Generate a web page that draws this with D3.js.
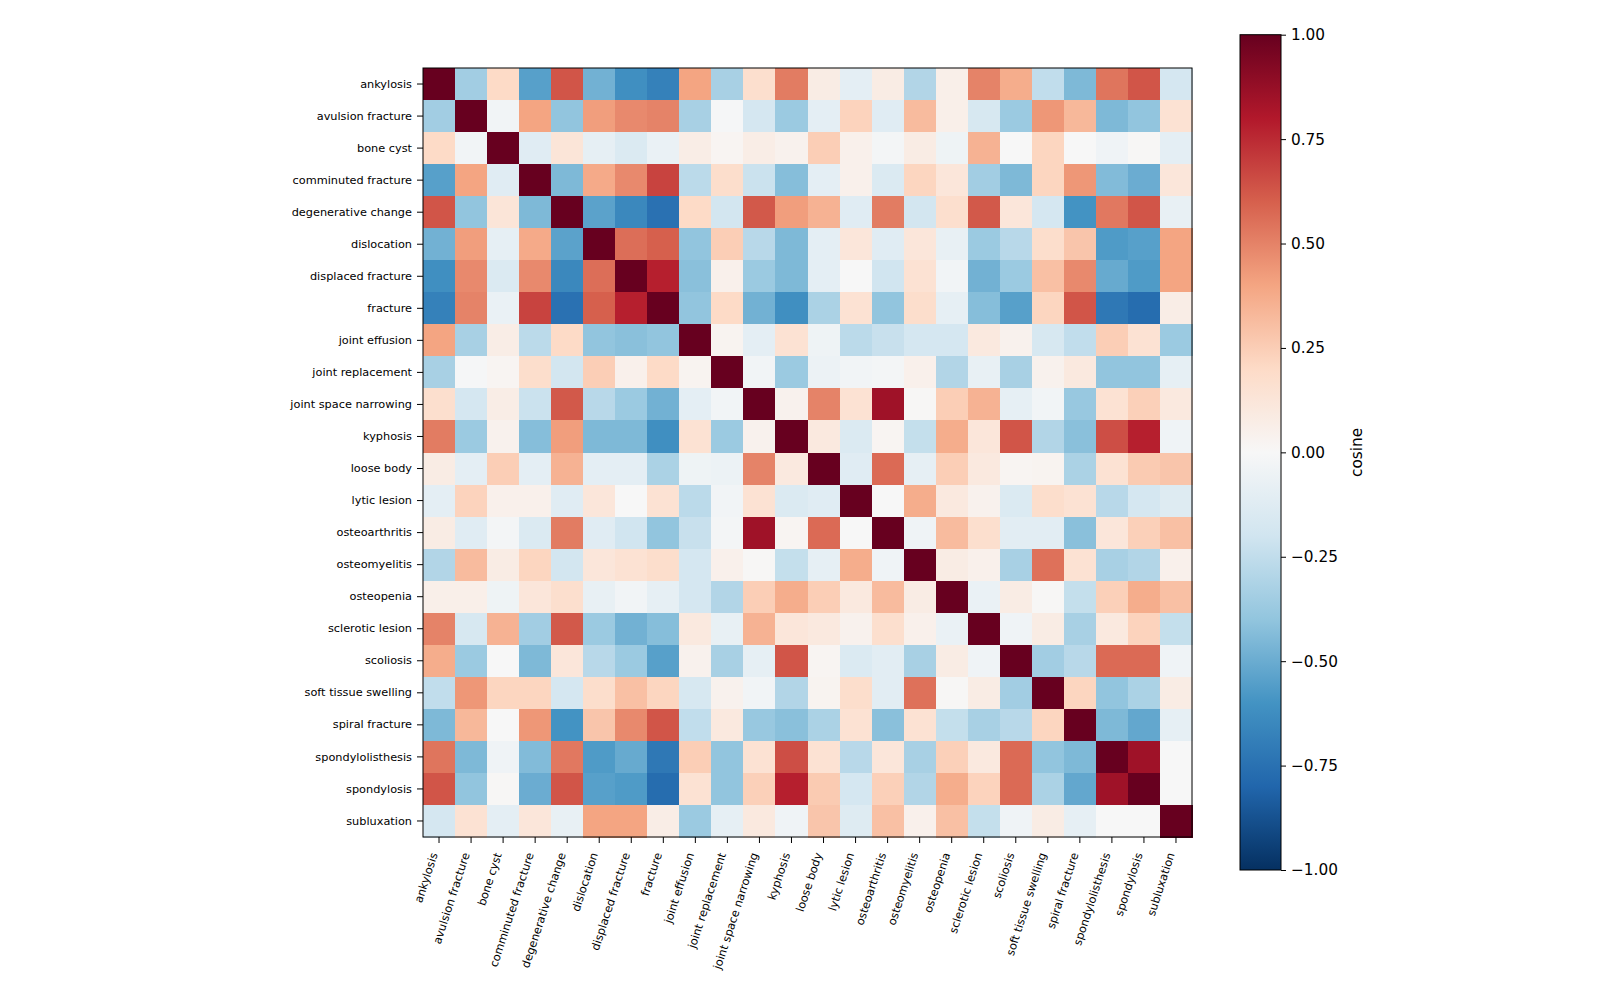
<!DOCTYPE html>
<html>
<head>
<meta charset="utf-8">
<script src="https://cdn.jsdelivr.net/npm/d3@7"></script>
<style>
  body { margin: 0; background: #fff; }
  svg text { font-family: "DejaVu Sans", sans-serif; fill: #000; }
</style>
</head>
<body>
<div id="chart"></div>
<script>
// labels (rows and columns are the same)
const labels = [
  "ankylosis", "avulsion fracture", "bone cyst", "comminuted fracture",
  "degenerative change", "dislocation", "displaced fracture", "fracture",
  "joint effusion", "joint replacement", "joint space narrowing", "kyphosis",
  "loose body", "lytic lesion", "osteoarthritis", "osteomyelitis",
  "osteopenia", "sclerotic lesion", "scoliosis", "soft tissue swelling",
  "spiral fracture", "spondylolisthesis", "spondylosis", "subluxation"
];

// cosine similarity matrix
const cosine = [
  [1, -0.35, 0.2, -0.55, 0.63, -0.48, -0.62, -0.68, 0.4, -0.33, 0.17, 0.52, 0.08, -0.1, 0.08, -0.3, 0.06, 0.5, 0.37, -0.25, -0.45, 0.54, 0.63, -0.18],
  [-0.35, 1, -0.03, 0.4, -0.4, 0.42, 0.48, 0.5, -0.33, -0.01, -0.18, -0.37, -0.1, 0.23, -0.12, 0.32, 0.06, -0.17, -0.37, 0.44, 0.33, -0.45, -0.4, 0.15],
  [0.2, -0.03, 1, -0.12, 0.13, -0.09, -0.15, -0.07, 0.07, 0.02, 0.07, 0.04, 0.25, 0.05, -0.02, 0.08, -0.05, 0.35, 0.0, 0.22, 0.0, -0.04, 0.01, -0.1],
  [-0.55, 0.4, -0.12, 1, -0.45, 0.38, 0.48, 0.68, -0.27, 0.18, -0.22, -0.43, -0.1, 0.05, -0.15, 0.22, 0.12, -0.35, -0.45, 0.22, 0.44, -0.44, -0.5, 0.12],
  [0.63, -0.4, 0.13, -0.45, 1, -0.54, -0.65, -0.75, 0.2, -0.19, 0.62, 0.42, 0.35, -0.12, 0.52, -0.19, 0.17, 0.62, 0.12, -0.18, -0.6, 0.53, 0.63, -0.08],
  [-0.48, 0.42, -0.09, 0.38, -0.54, 1, 0.56, 0.6, -0.4, 0.25, -0.28, -0.45, -0.1, 0.12, -0.12, 0.12, -0.08, -0.37, -0.28, 0.18, 0.28, -0.57, -0.55, 0.4],
  [-0.62, 0.48, -0.15, 0.48, -0.65, 0.56, 1, 0.78, -0.42, 0.05, -0.37, -0.45, -0.1, 0.0, -0.2, 0.15, -0.03, -0.48, -0.37, 0.3, 0.48, -0.51, -0.57, 0.4],
  [-0.68, 0.5, -0.07, 0.68, -0.75, 0.6, 0.78, 1, -0.4, 0.2, -0.48, -0.62, -0.32, 0.15, -0.4, 0.18, -0.09, -0.43, -0.55, 0.22, 0.63, -0.72, -0.77, 0.07],
  [0.4, -0.33, 0.07, -0.27, 0.2, -0.4, -0.42, -0.4, 1, 0.03, -0.1, 0.15, -0.05, -0.27, -0.23, -0.18, -0.18, 0.1, 0.04, -0.17, -0.25, 0.25, 0.15, -0.37],
  [-0.33, -0.01, 0.02, 0.18, -0.19, 0.25, 0.05, 0.2, 0.03, 1, -0.03, -0.37, -0.06, -0.03, -0.02, 0.05, -0.3, -0.08, -0.33, 0.04, 0.1, -0.4, -0.4, -0.09],
  [0.17, -0.18, 0.07, -0.22, 0.62, -0.28, -0.37, -0.48, -0.1, -0.03, 1, 0.04, 0.5, 0.15, 0.85, 0.01, 0.25, 0.35, -0.09, -0.03, -0.38, 0.15, 0.24, 0.1],
  [0.52, -0.37, 0.04, -0.43, 0.42, -0.45, -0.45, -0.62, 0.15, -0.37, 0.04, 1, 0.1, -0.15, 0.02, -0.24, 0.37, 0.12, 0.63, -0.3, -0.42, 0.65, 0.78, -0.04],
  [0.08, -0.1, 0.25, -0.1, 0.35, -0.1, -0.1, -0.32, -0.05, -0.06, 0.5, 0.1, 1, -0.12, 0.57, -0.09, 0.25, 0.1, 0.02, 0.03, -0.32, 0.15, 0.26, 0.28],
  [-0.1, 0.23, 0.05, 0.05, -0.12, 0.12, 0.0, 0.15, -0.27, -0.03, 0.15, -0.15, -0.12, 1, 0.0, 0.37, 0.1, 0.04, -0.15, 0.18, 0.15, -0.28, -0.18, -0.13],
  [0.08, -0.12, -0.02, -0.15, 0.52, -0.12, -0.2, -0.4, -0.23, -0.02, 0.85, 0.02, 0.57, 0.0, 1, -0.04, 0.32, 0.17, -0.11, -0.11, -0.42, 0.12, 0.24, 0.3],
  [-0.3, 0.32, 0.08, 0.22, -0.19, 0.12, 0.15, 0.18, -0.18, 0.05, 0.01, -0.24, -0.09, 0.37, -0.04, 1, 0.08, 0.05, -0.33, 0.55, 0.15, -0.33, -0.3, 0.05],
  [0.06, 0.06, -0.05, 0.12, 0.17, -0.08, -0.03, -0.09, -0.18, -0.3, 0.25, 0.37, 0.25, 0.1, 0.32, 0.08, 1, -0.07, 0.08, 0.01, -0.24, 0.24, 0.37, 0.3],
  [0.5, -0.17, 0.35, -0.35, 0.62, -0.37, -0.48, -0.43, 0.1, -0.08, 0.35, 0.12, 0.1, 0.04, 0.17, 0.05, -0.07, 1, -0.04, 0.08, -0.33, 0.1, 0.23, -0.24],
  [0.37, -0.37, 0.0, -0.45, 0.12, -0.28, -0.37, -0.55, 0.04, -0.33, -0.09, 0.63, 0.02, -0.15, -0.11, -0.33, 0.08, -0.04, 1, -0.35, -0.28, 0.57, 0.57, -0.04],
  [-0.25, 0.44, 0.22, 0.22, -0.18, 0.18, 0.3, 0.22, -0.17, 0.04, -0.03, -0.3, 0.03, 0.18, -0.11, 0.55, 0.01, 0.08, -0.35, 1, 0.22, -0.4, -0.32, 0.08],
  [-0.45, 0.33, 0.0, 0.44, -0.6, 0.28, 0.48, 0.63, -0.25, 0.1, -0.38, -0.42, -0.32, 0.15, -0.42, 0.15, -0.24, -0.33, -0.28, 0.22, 1, -0.45, -0.52, -0.09],
  [0.54, -0.45, -0.04, -0.44, 0.53, -0.57, -0.51, -0.72, 0.25, -0.4, 0.15, 0.65, 0.15, -0.28, 0.12, -0.33, 0.24, 0.1, 0.57, -0.4, -0.45, 1, 0.85, 0.0],
  [0.63, -0.4, 0.01, -0.5, 0.63, -0.55, -0.57, -0.77, 0.15, -0.4, 0.24, 0.78, 0.26, -0.18, 0.24, -0.3, 0.37, 0.23, 0.57, -0.32, -0.52, 0.85, 1, 0.0],
  [-0.18, 0.15, -0.1, 0.12, -0.08, 0.4, 0.4, 0.07, -0.37, -0.09, 0.1, -0.04, 0.28, -0.13, 0.3, 0.05, 0.3, -0.24, -0.04, 0.08, -0.09, 0.0, 0.0, 1]
];

const colorbarTicks = [-1, -0.75, -0.5, -0.25, 0, 0.25, 0.5, 0.75, 1];

// RdBu_r (matplotlib style, linear between brewer stops)
const rdbuStops = ["#053061", "#2166ac", "#4393c3", "#92c5de", "#d1e5f0", "#f7f7f7",
                   "#fddbc7", "#f4a582", "#d6604d", "#b2182b", "#67001f"];
const color = d3.scaleLinear()
  .domain(d3.range(rdbuStops.length).map(i => -1 + 2 * i / (rdbuStops.length - 1)))
  .range(rdbuStops)
  .interpolate(d3.interpolateRgb)
  .clamp(true);

const width = 1600, height = 1000;
const plot = { left: 423, top: 68, size: 769 };
const cbar = { left: 1240, top: 34.7, width: 41, bottom: 870 };

const svg = d3.select("#chart").append("svg")
  .attr("width", width)
  .attr("height", height);

const x = d3.scaleBand().domain(labels).range([plot.left, plot.left + plot.size]);
const y = d3.scaleBand().domain(labels).range([plot.top, plot.top + plot.size]);

// cells
const cells = [];
cosine.forEach((row, i) => row.forEach((v, j) => cells.push({ r: labels[i], c: labels[j], v })));

svg.append("g")
  .selectAll("rect")
  .data(cells)
  .join("rect")
  .attr("x", d => x(d.c))
  .attr("y", d => y(d.r))
  .attr("width", x.bandwidth() + 0.5)
  .attr("height", y.bandwidth() + 0.5)
  .attr("fill", d => color(d.v))
  .attr("shape-rendering", "crispEdges");

// frame
svg.append("rect")
  .attr("x", plot.left)
  .attr("y", plot.top)
  .attr("width", plot.size)
  .attr("height", plot.size)
  .attr("fill", "none")
  .attr("stroke", "#000")
  .attr("stroke-width", 1);

// eje Y
const yAxis = svg.append("g")
  .attr("transform", `translate(${plot.left},0)`)
  .call(d3.axisLeft(y).tickSize(6).tickSizeOuter(0).tickPadding(5));
yAxis.select(".domain").remove();
yAxis.selectAll("text").style("font-size", "11.3px");

// eje X
const xAxis = svg.append("g")
  .attr("transform", `translate(0,${plot.top + plot.size})`)
  .call(d3.axisBottom(x).tickSize(6).tickSizeOuter(0));
xAxis.select(".domain").remove();
xAxis.selectAll("text")
  .style("font-size", "11.3px")
  .attr("text-anchor", "end")
  .attr("x", 0)
  .attr("y", 0)
  .attr("dy", "0.35em")
  .attr("transform", "translate(-5,16) rotate(-72)");

// colorbar
const defs = svg.append("defs");
const grad = defs.append("linearGradient")
  .attr("id", "cbar-grad")
  .attr("x1", 0).attr("y1", 1).attr("x2", 0).attr("y2", 0);
rdbuStops.forEach((c, i) => {
  grad.append("stop")
    .attr("offset", i / (rdbuStops.length - 1))
    .attr("stop-color", c);
});

svg.append("rect")
  .attr("x", cbar.left)
  .attr("y", cbar.top)
  .attr("width", cbar.width)
  .attr("height", cbar.bottom - cbar.top)
  .attr("fill", "url(#cbar-grad)")
  .attr("stroke", "#000")
  .attr("stroke-width", 1);

const cy = d3.scaleLinear().domain([-1, 1]).range([cbar.bottom, cbar.top]);
const cAxis = svg.append("g")
  .attr("transform", `translate(${cbar.left + cbar.width},0)`)
  .call(d3.axisRight(cy).tickValues(colorbarTicks).tickFormat(d3.format(".2f")).tickSize(5).tickPadding(5));
cAxis.select(".domain").remove();
cAxis.selectAll("text").style("font-size", "15.3px");

svg.append("text")
  .attr("transform", `translate(1362,${(cbar.top + cbar.bottom) / 2}) rotate(-90)`)
  .attr("text-anchor", "middle")
  .style("font-size", "15.3px")
  .text("cosine");
</script>
</body>
</html>
